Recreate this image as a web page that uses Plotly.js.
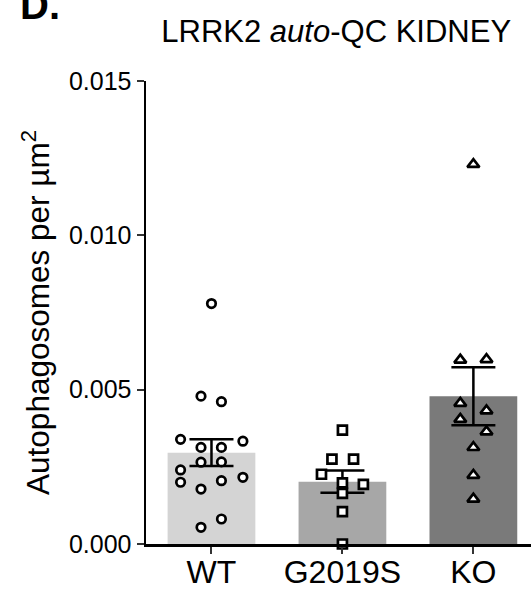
<!DOCTYPE html>
<html>
<head>
<meta charset="utf-8">
<script src="https://cdn.plot.ly/plotly-3.0.1.min.js"></script>
<style>
html,body{margin:0;padding:0;background:#fff;}
#chart{width:531px;height:591px;}
</style>
</head>
<body>
<div id="chart"></div>
<script>
// ---- data ----
const categories = ["WT", "G2019S", "KO"];
const means = [0.00296, 0.00202, 0.00479];
const sems = [0.00043, 0.00036, 0.00094];
const barColors = ["#d4d4d4", "#a7a7a7", "#7a7a7a"];

const wtValues = [0.00779, 0.00479, 0.00461, 0.00339, 0.00333, 0.00313, 0.00313, 0.00265,
                  0.00266, 0.00240, 0.00200, 0.00216, 0.00205, 0.00178, 0.00081, 0.00054];
const wtJitter = [0, -0.08, 0.076, -0.236, 0.24, -0.08, 0.076, -0.08,
                  0.076, -0.236, -0.236, 0.24, 0.076, -0.08, 0.076, -0.08];

const gsValues = [0.00369, 0.00275, 0.00275, 0.00226, 0.00193, 0.00198, 0.00164, 0.00105, 0.0];
const gsJitter = [0, -0.08, 0.085, -0.16, 0.16, 0, 0, 0, 0];

const koValues = [0.01230, 0.00596, 0.00598, 0.00456, 0.00432, 0.00404, 0.00364, 0.00313, 0.00223, 0.00146];
const koJitter = [0, -0.1, 0.1, -0.1, 0.1, -0.1, 0.1, 0, 0, 0];

const yTicks = [0, 0.005, 0.010, 0.015];

// ---- build traces ----
const FONT = "Liberation Sans, Arial, Helvetica, sans-serif";
const catIdx = categories.map((c, i) => i);

const barTrace = {
  type: "bar",
  x: catIdx,
  y: means,
  width: 0.67,
  marker: {color: barColors, line: {width: 0}},
  error_y: {type: "data", array: sems, visible: true, color: "#000", thickness: 2.5, width: 22},
  hoverinfo: "skip",
  showlegend: false
};

function pts(values, jitter, idx, symbol, size) {
  return {
    type: "scatter",
    mode: "markers",
    x: values.map((v, i) => idx + jitter[i]),
    y: values,
    cliponaxis: false,
    marker: {symbol: symbol, size: size, color: "#fff", line: {color: "#000", width: 2.7}},
    showlegend: false,
    hoverinfo: "skip"
  };
}

const data = [
  barTrace,
  pts(wtValues, wtJitter, 0, "circle", 8.5),
  pts(gsValues, gsJitter, 1, "square", 9),
  pts(koValues, koJitter, 2, "triangle-up", 10.5)
];

const layout = {
  width: 531,
  height: 591,
  margin: {l: 146, r: 0, t: 81, b: 47, pad: 0},
  paper_bgcolor: "#fff",
  plot_bgcolor: "#fff",
  font: {family: FONT, color: "#000"},
  title: {
    text: "LRRK2 <i>auto</i>-QC KIDNEY",
    font: {family: FONT, size: 31, color: "#000"},
    xref: "paper", x: 0.494, xanchor: "center",
    yref: "container", y: 0.947, yanchor: "middle"
  },
  xaxis: {
    range: [-0.5, 2.44],
    tickmode: "array",
    tickvals: catIdx,
    ticktext: categories,
    showline: true, linecolor: "#000", linewidth: 2.5,
    ticks: "outside", ticklen: 7, tickwidth: 2, tickcolor: "#333",
    ticklabelstandoff: -9,
    tickfont: {family: FONT, size: 32, color: "#000"},
    showgrid: false, zeroline: false, fixedrange: true
  },
  yaxis: {
    range: [0, 0.015],
    tickmode: "array",
    tickvals: yTicks,
    ticktext: yTicks.map(v => v.toFixed(3)),
    showline: true, linecolor: "#000", linewidth: 2.5,
    ticks: "outside", ticklen: 7, tickwidth: 2, tickcolor: "#333",
    tickfont: {family: FONT, size: 25, color: "#000"},
    showgrid: false, zeroline: false, fixedrange: true,
    title: {text: "Autophagosomes per µm<sup>2</sup>", font: {family: FONT, size: 31.5, color: "#000"}, standoff: 10}
  },
  annotations: [{
    text: "<b>D.</b>",
    xref: "paper", yref: "paper",
    x: (18 - 146) / 385, y: 1 + (81 - 29) / 463,
    xanchor: "left", yanchor: "bottom",
    showarrow: false,
    font: {family: FONT, size: 40, color: "#000"}
  }]
};

Plotly.newPlot("chart", data, layout, {displayModeBar: false, staticPlot: true});
</script>
</body>
</html>
